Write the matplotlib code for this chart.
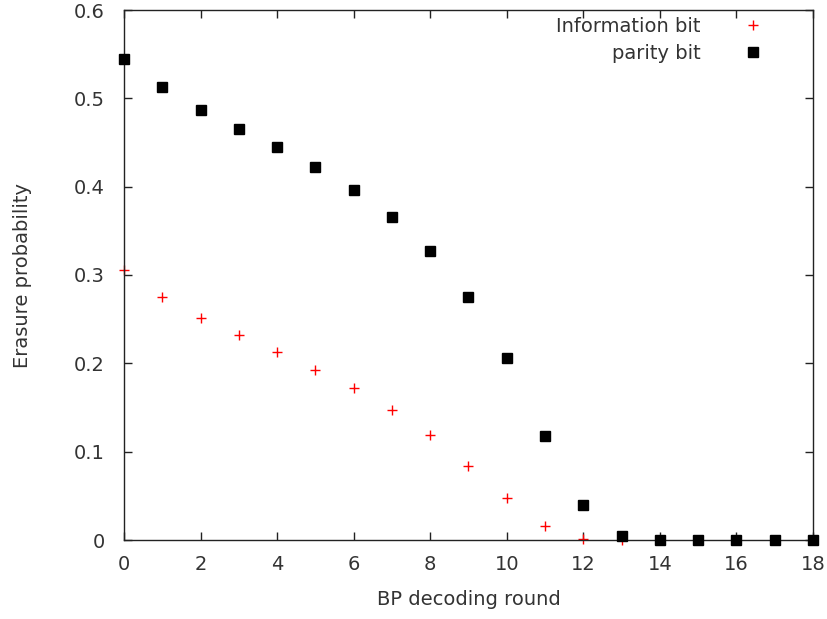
import matplotlib
matplotlib.use('Agg')
import matplotlib.pyplot as plt
import numpy as np

# BP decoding rounds
rounds = list(range(19))

# erasure probability of information bits (red +)
info_bit = [0.306, 0.275, 0.251, 0.232, 0.213, 0.192, 0.172, 0.147, 0.119,
            0.084, 0.048, 0.016, 0.001, 0.0, 0.0, 0.0, 0.0, 0.0, 0.0]

# erasure probability of parity bits (black squares)
parity_bit = [0.544, 0.513, 0.487, 0.465, 0.445, 0.422, 0.396, 0.366, 0.327,
              0.275, 0.206, 0.118, 0.040, 0.005, 0.0, 0.0, 0.0, 0.0, 0.0]

plt.rcParams['font.family'] = 'DejaVu Sans'
plt.rcParams['font.size'] = 14

fig = plt.figure(figsize=(8.28, 6.19), dpi=100)
ax = fig.add_axes([124 / 828, 1 - 540 / 619, (813 - 124) / 828, 530 / 619])

ax.plot(rounds, info_bit, linestyle='none', marker='+', color='red',
        markersize=6.5, markeredgewidth=1.0, label='Information bit', clip_on=False, zorder=2)
ax.plot(rounds, parity_bit, linestyle='none', marker='s', color='black',
        markersize=6.5, label='parity bit', clip_on=False, zorder=3)

ax.set_xlim(0, 18)
ax.set_ylim(0, 0.6)
ax.set_xticks(np.arange(0, 19, 2))
ax.set_yticks(np.arange(0, 0.61, 0.1))
ax.set_yticklabels(['0', '0.1', '0.2', '0.3', '0.4', '0.5', '0.6'])

ax.tick_params(direction='in', top=True, right=True, length=6, width=1,
               colors='#222222', labelcolor='#333333')
ax.tick_params(axis='x', pad=11)
ax.tick_params(axis='y', pad=14)
for s in ax.spines.values():
    s.set_color('#222222')
    s.set_linewidth(1.0)

ax.set_xlabel('BP decoding round', color='#333333')
ax.set_ylabel('Erasure probability', color='#333333')
ax.xaxis.set_label_coords(0.5, -0.094)
ax.yaxis.set_label_coords(-0.134, 0.5)

leg = ax.legend(loc='upper right', frameon=False, markerfirst=False,
                handletextpad=1.7, borderaxespad=0.2, labelspacing=0.4,
                bbox_to_anchor=(0.958, 1.009))
for t in leg.get_texts():
    t.set_color('#333333')

fig.savefig('out.png', dpi=100)
